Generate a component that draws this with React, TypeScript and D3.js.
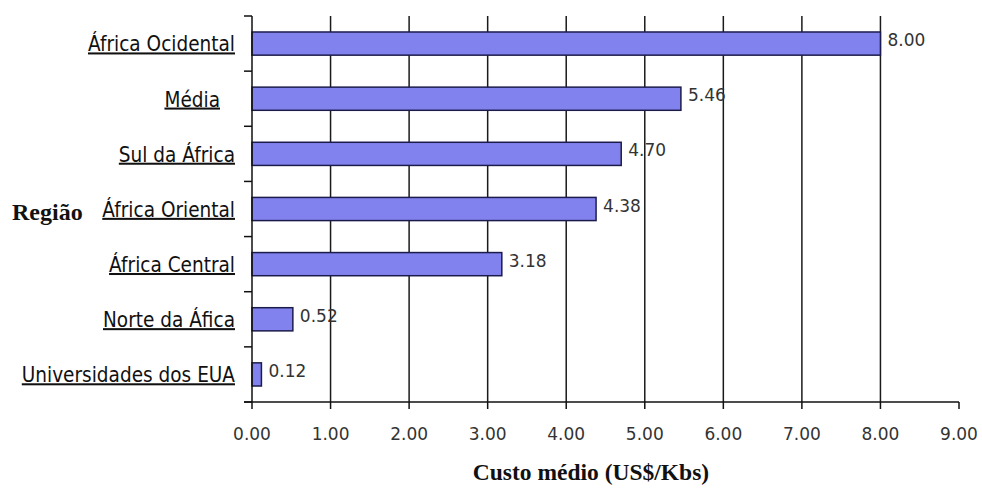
import React from "react";
import * as d3 from "d3";

const categories = [
  "África Ocidental",
  "Média ",
  "Sul da África",
  "África Oriental",
  "África Central",
  "Norte da Áfica",
  "Universidades dos EUA",
];
const costs = [8.0, 5.46, 4.7, 4.38, 3.18, 0.52, 0.12];
const xTicks = [0, 1, 2, 3, 4, 5, 6, 7, 8, 9];
const yTitle = "Região";
const xTitle = "Custo médio (US$/Kbs)";

const W = 982;
const H = 489;
const M = { left: 252, top: 16, right: 23, bottom: 87 };

export default function App() {
  const x = d3
    .scaleLinear()
    .domain([0, 9])
    .range([M.left, W - M.right]);
  const y = d3
    .scaleBand<string>()
    .domain(categories)
    .range([M.top, H - M.bottom])
    .paddingInner(0.58)
    .paddingOuter(0.29);
  const step = y.step();
  const y0 = M.top;
  const y1 = H - M.bottom;
  const labelFont = "'DejaVu Sans', Verdana, sans-serif";
  const titleFont = "'Liberation Serif', 'Times New Roman', serif";
  const fmt = d3.format(".2f");
  const mid = (c: string) => (y(c) ?? 0) + y.bandwidth() / 2;

  return (
    <svg
      width={W}
      height={H}
      style={{ position: "absolute", left: 0, top: 0, background: "#fff" }}
    >
      {/* vertical gridlines */}
      {xTicks
        .filter((t) => t > 0 && t < 9)
        .map((t) => (
          <line
            key={"g" + t}
            x1={x(t)}
            x2={x(t)}
            y1={y0}
            y2={y1}
            stroke="#1a1a1a"
            strokeWidth={1.5}
          />
        ))}

      {/* bars */}
      {categories.map((c, i) => (
        <rect
          key={c}
          x={x(0)}
          y={y(c)}
          width={x(costs[i]) - x(0)}
          height={y.bandwidth()}
          fill="#8282EE"
          stroke="#1c1c4c"
          strokeWidth={1.5}
        />
      ))}

      {/* value labels */}
      {categories.map((c, i) => (
        <text
          key={"v" + c}
          x={x(costs[i]) + 7}
          y={mid(c) + 2.5}
          fontFamily={labelFont}
          fontSize={17}
          fill="#333"
        >
          {fmt(costs[i])}
        </text>
      ))}

      {/* y axis */}
      <line x1={x(0)} x2={x(0)} y1={y0} y2={y1} stroke="#111" strokeWidth={1.5} />
      {d3.range(categories.length + 1).map((k) => (
        <line
          key={"yt" + k}
          x1={x(0) - 8}
          x2={x(0)}
          y1={y0 + k * step}
          y2={y0 + k * step}
          stroke="#111"
          strokeWidth={1.5}
        />
      ))}

      {/* x axis */}
      <line x1={x(0) - 8} x2={x(9)} y1={y1} y2={y1} stroke="#111" strokeWidth={1.5} />
      {xTicks.map((t) => (
        <line
          key={"xt" + t}
          x1={x(t)}
          x2={x(t)}
          y1={y1}
          y2={y1 + 7}
          stroke="#111"
          strokeWidth={1.5}
        />
      ))}
      {xTicks.map((t) => (
        <text
          key={"xl" + t}
          x={x(t)}
          y={y1 + 38}
          textAnchor="middle"
          fontFamily={labelFont}
          fontSize={17}
          fill="#333"
        >
          {fmt(t)}
        </text>
      ))}

      {/* category labels, underlined; trailing spaces shift the word left */}
      {categories.map((c) => {
        const word = c.trimEnd();
        const trail = c.length - word.length;
        return (
          <text
            key={"c" + c}
            transform={`translate(${x(0) - 17 - trail * 15},${mid(c) + 7.8}) scale(1,1.1)`}
            textAnchor="end"
            fontFamily={labelFont}
            fontSize={18.5}
            fill="#111"
            textDecoration="underline"
          >
            {word}
          </text>
        );
      })}

      {/* axis titles */}
      <text
        x={12}
        y={220}
        fontFamily={titleFont}
        fontWeight="bold"
        fontSize={24}
        fill="#111"
      >
        {yTitle}
      </text>
      <text
        x={591}
        y={480}
        textAnchor="middle"
        fontFamily={titleFont}
        fontWeight="bold"
        fontSize={23.5}
        fill="#111"
      >
        {xTitle}
      </text>
    </svg>
  );
}
